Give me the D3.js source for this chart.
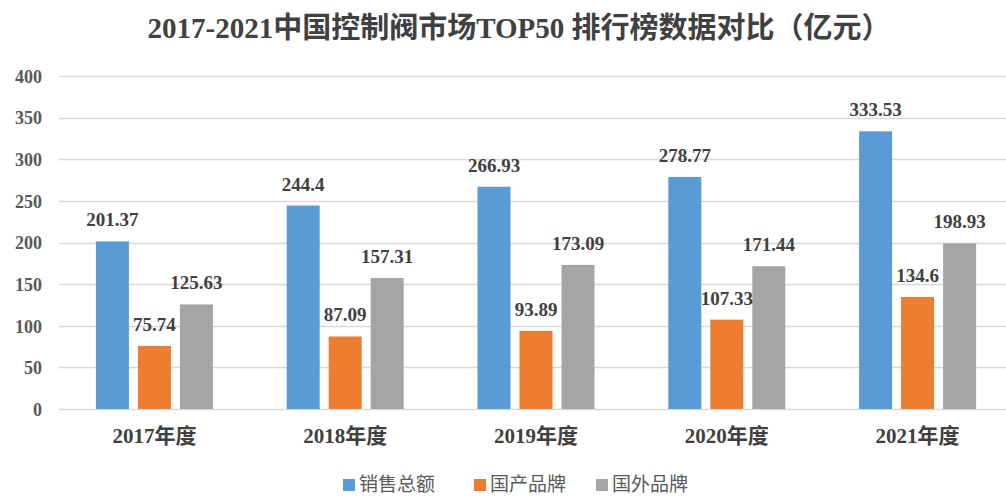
<!DOCTYPE html>
<html>
<head>
<meta charset="utf-8">
<script src="https://cdn.jsdelivr.net/npm/d3@7"></script>
<style>
  body { margin: 0; background: #fff; }
  svg { display: block; }
</style>
</head>
<body>
<div id="chart"></div>
<script>
const categories = ['2017年度', '2018年度', '2019年度', '2020年度', '2021年度'];
const seriesNames = ['销售总额', '国产品牌', '国外品牌'];
const totalSales = [201.37, 244.4, 266.93, 278.77, 333.53];
const domesticBrands = [75.74, 87.09, 93.89, 107.33, 134.6];
const foreignBrands = [125.63, 157.31, 173.09, 171.44, 198.93];
const yTicks = [0, 50, 100, 150, 200, 250, 300, 350, 400];
const colors = ['#5B9BD5', '#ED7D31', '#A5A5A5'];

const seriesValues = [totalSales, domesticBrands, foreignBrands];

const width = 1006;
const height = 496;
const margin = { top: 76, right: -7, bottom: 87, left: 59 };

const svg = d3.select('#chart')
    .append('svg')
    .attr('width', width)
    .attr('height', height);

const serif = '"Times New Roman", "Liberation Serif", "Noto Sans CJK SC", serif';
const textColor = '#404040';

// Scales
const xScale = d3.scaleBand()
    .domain(categories)
    .range([margin.left, width - margin.right]);

const yScale = d3.scaleLinear()
    .domain([0, 400])
    .range([height - margin.bottom, margin.top]);

const barWidth = 33;
const barGap = 9;
const xInner = d3.scaleBand()
    .domain(seriesNames)
    .range([0, barWidth * 3 + barGap * 2])
    .paddingInner(barGap / (barWidth + barGap));

// Gridlines
svg.append('g')
    .selectAll('line')
    .data(yTicks)
    .join('line')
    .attr('x1', margin.left)
    .attr('x2', width)
    .attr('y1', d => Math.round(yScale(d)) + 0.5)
    .attr('y2', d => Math.round(yScale(d)) + 0.5)
    .attr('stroke', '#D9D9D9')
    .attr('stroke-width', 1.3);

// Y axis labels
const yAxis = d3.axisLeft(yScale).tickValues(yTicks).tickSize(0).tickPadding(0);
const yAxisG = svg.append('g')
    .attr('transform', 'translate(42, 0)')
    .call(yAxis);
yAxisG.select('.domain').remove();
yAxisG.selectAll('text')
    .attr('font-family', serif)
    .attr('font-size', 18)
    .attr('font-weight', 'bold')
    .attr('fill', '#595959')
    .attr('dy', '0.35em');

// Bars
const groupW = barWidth * 3 + barGap * 2;
const groups = svg.append('g')
    .selectAll('g')
    .data(categories)
    .join('g')
    .attr('transform', d => `translate(${xScale(d) + xScale.bandwidth() / 2 - groupW / 2}, 0)`);

groups.selectAll('rect')
    .data((d, i) => seriesNames.map((s, j) => ({ s, j, v: seriesValues[j][i] })))
    .join('rect')
    .attr('x', d => xInner(d.s))
    .attr('y', d => yScale(d.v))
    .attr('width', xInner.bandwidth())
    .attr('height', d => yScale(0) - yScale(d.v))
    .attr('fill', d => colors[d.j]);

// Data labels
groups.selectAll('text')
    .data((d, i) => seriesNames.map((s, j) => ({ s, j, v: seriesValues[j][i] })))
    .join('text')
    .attr('x', d => xInner(d.s) + xInner.bandwidth() / 2)
    .attr('y', d => yScale(d.v) - 15)
    .attr('text-anchor', 'middle')
    .attr('font-family', serif)
    .attr('font-size', 19)
    .attr('font-weight', 'bold')
    .attr('fill', textColor)
    .text(d => d.v);

// X axis labels
const xAxis = d3.axisBottom(xScale).tickSize(0).tickPadding(0);
const xAxisG = svg.append('g')
    .attr('transform', `translate(0, ${yScale(0)})`)
    .call(xAxis);
xAxisG.select('.domain').remove();
xAxisG.selectAll('text')
    .attr('font-family', serif)
    .attr('font-size', 21)
    .attr('font-weight', 'bold')
    .attr('fill', textColor)
    .attr('dy', 0)
    .attr('y', 34);

// Title
svg.append('text')
    .attr('x', 519)
    .attr('y', 38)
    .attr('text-anchor', 'middle')
    .attr('font-family', serif)
    .attr('font-size', 29)
    .attr('font-weight', 'bold')
    .attr('fill', textColor)
    .text('2017-2021中国控制阀市场TOP50 排行榜数据对比（亿元）');

// Legend
const legendX = [343, 474, 596];
const legend = svg.append('g')
    .selectAll('g')
    .data(seriesNames)
    .join('g')
    .attr('transform', (d, i) => `translate(${legendX[i]}, 479)`);

legend.append('rect')
    .attr('width', 12)
    .attr('height', 12)
    .attr('fill', (d, i) => colors[i]);

legend.append('text')
    .attr('x', 16)
    .attr('y', 12)
    .attr('font-family', '"Noto Sans CJK SC", sans-serif')
    .attr('font-size', 19)
    .attr('fill', '#595959')
    .text(d => d);
</script>
</body>
</html>
